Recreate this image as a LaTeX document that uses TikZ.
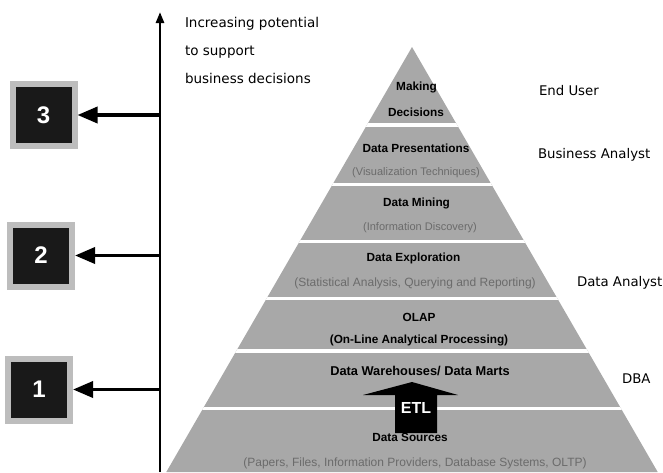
\documentclass[tikz,border=0pt]{standalone}
\usepackage{fontspec}
\setmainfont{Liberation Sans}
\newfontfamily\rolefont{DejaVu Sans}
\usetikzlibrary{arrows.meta}

\definecolor{pyrgrey}{gray}{0.66}
\definecolor{notegrey}{gray}{0.42}
\definecolor{framegrey}{gray}{0.74}
\definecolor{boxblack}{gray}{0.10}

\begin{document}
\begin{tikzpicture}[x=1pt,y=-1pt,
  every node/.style={inner sep=0pt,outer sep=0pt},
  levelbox/.style={fill=boxblack,draw=framegrey,line width=6pt,outer sep=3pt,
    minimum size=62pt,text=white,font=\bfseries\fontsize{24}{24}\selectfont},
  levelarrow/.style={line width=3.5pt,-{Triangle[length=20pt,width=16pt]}},
  axisline/.style={line width=2.5pt,-{Triangle[length=11pt,width=8pt]}},
  tierlabel/.style={font=\bfseries\fontsize{11.8}{14}\selectfont},
  tiernote/.style={font=\fontsize{11.5}{14}\selectfont,text=notegrey},
  rolelabel/.style={anchor=west,font=\rolefont\fontsize{13.3}{16}\selectfont},
  axislabel/.style={anchor=west,font=\rolefont\fontsize{13.5}{16}\selectfont},
  gap/.style={white,line width=3.5pt}]

\useasboundingbox (0,0) rectangle (663,472);

% pyramid body with white separations between the tiers
\coordinate (apex) at (412,47);
\coordinate (baseL) at (166.3,472);
\coordinate (baseR) at (657.7,472);
\fill[pyrgrey] (apex) -- (baseR) -- (baseL) -- cycle;
\begin{scope}
  \clip (apex) -- (baseR) -- (baseL) -- cycle;
  \foreach \gy in {125,184.5,241.5,298.5,351,408.5}
    \draw[gap] (150,\gy) -- (670,\gy);
\end{scope}

% ETL block arrow between the two lowest tiers
\fill[black] (395,433) -- (395,395) -- (363,395) -- (412,382) -- (458,395)
  -- (437,395) -- (437,433) -- cycle;
\node[text=white,font=\bfseries\fontsize{16}{16}\selectfont] (etl) at (416,408) {ETL};

% tier labels
\node[tierlabel] (making) at (416.5,87) {Making};
\node[tierlabel] (decisions) at (416,112) {Decisions};
\node[tierlabel] (present) at (416,148) {Data Presentations};
\node[tiernote,font=\fontsize{11}{14}\selectfont] (presentnote) at (416,173) {(Visualization Techniques)};
\node[tierlabel] (mining) at (416.5,203) {Data Mining};
\node[tiernote,font=\fontsize{11}{14}\selectfont] (miningnote) at (420,228) {(Information Discovery)};
\node[tierlabel] (explore) at (413.5,258) {Data Exploration};
\node[tiernote,font=\fontsize{12}{14}\selectfont] (explorenote) at (415,283) {(Statistical Analysis, Querying and Reporting)};
\node[tierlabel] (olap) at (419,317) {OLAP};
\node[tierlabel] (olapnote) at (419,340) {(On-Line Analytical Processing)};
\node[tierlabel,font=\bfseries\fontsize{12.8}{14}\selectfont] (dw) at (420,371) {Data Warehouses/ Data Marts};
\node[tierlabel] (sources) at (410,437) {Data Sources};
\node[tiernote,font=\fontsize{12}{14}\selectfont] (sourcesnote) at (415,463) {(Papers, Files, Information Providers, Database Systems, OLTP)};

% roles on the right
\node[rolelabel] (enduser) at (539,91) {End User};
\node[rolelabel] (busanalyst) at (538,155) {Business Analyst};
\node[rolelabel] (dataanalyst) at (577,283) {Data Analyst};
\node[rolelabel] (dba) at (622,379) {DBA};

% vertical axis and its caption
\coordinate (axisfoot) at (160,472);
\coordinate (axistop) at (160,12);
\draw[axisline] (axisfoot) -- (axistop);
\node[axislabel] (cap1) at (185,24) {Increasing potential};
\node[axislabel] (cap2) at (185,52) {to support};
\node[axislabel] (cap3) at (185,78) {business decisions};

% numbered levels
\node[levelbox] (lvl3) at (43.5,115) {3};
\node[levelbox] (lvl2) at (41,255.5) {2};
\node[levelbox] (lvl1) at (39,389.5) {1};
\coordinate (tap3) at (160,115);
\coordinate (tap2) at (160,255.5);
\coordinate (tap1) at (160,389.5);
\draw[levelarrow] (tap3) -- (lvl3.east);
\draw[levelarrow] (tap2) -- (lvl2.east);
\draw[levelarrow] (tap1) -- (lvl1.east);

\end{tikzpicture}
\end{document}
